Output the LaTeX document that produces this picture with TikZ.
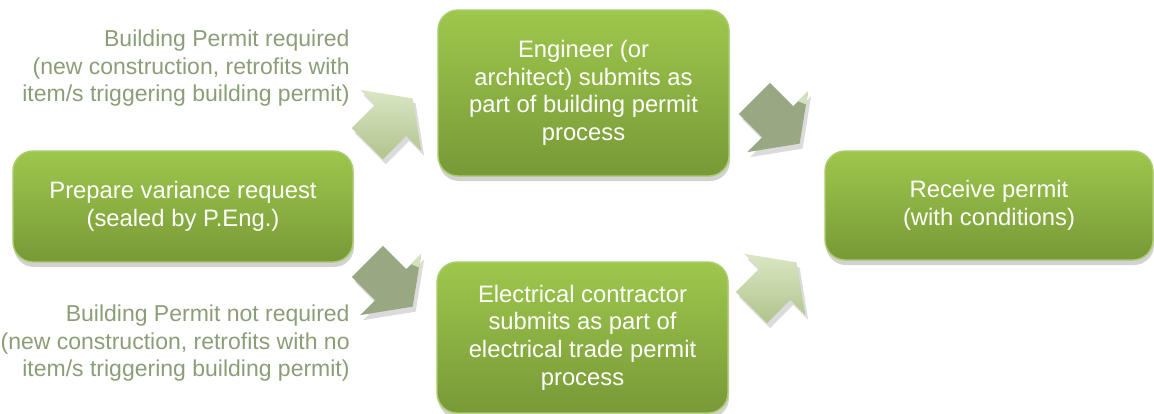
\documentclass[tikz,border=0pt]{standalone}
\usepackage{fontspec}
\setmainfont{Liberation Sans}
\usetikzlibrary{shadows}
\definecolor{boxtop}{RGB}{158,199,77}
\definecolor{boxbot}{RGB}{120,153,55}
\definecolor{boxline}{RGB}{172,205,112}
\definecolor{sidetext}{RGB}{140,158,120}
\definecolor{arrlightA}{RGB}{218,230,197}
\definecolor{arrlightB}{RGB}{176,196,140}
\definecolor{arrdark}{RGB}{152,168,131}
\definecolor{arrfacet}{RGB}{212,226,188}
\newcommand\BlockArrowPath{(-32,-22) -- (1,-22) -- (1,-43) -- (32,0) -- (1,43) -- (1,22) -- (-32,22) -- cycle}
\begin{document}
\begin{tikzpicture}[x=0.5pt,y=-0.5pt,
  stepnode/.style={rounded corners=10pt, draw=boxline, line width=0.7pt,
    top color=boxtop, bottom color=boxbot, text=white,
    font=\fontsize{11.9}{13.8}\selectfont, align=center, inner sep=0pt,
    drop shadow={shadow xshift=0.5pt, shadow yshift=-2.5pt, opacity=0.25, fill=black!70}},
  sidelabel/.style={text=sidetext, font=\fontsize{11.5}{13.8}\selectfont,
    align=right, inner sep=0pt},
  arrowshadow/.style={fill=black, opacity=0.14},
  lightarrow/.style={top color=arrlightA, bottom color=arrlightB},
  darkarrow/.style={fill=arrdark},
  facet/.style={fill=arrfacet}]
\useasboundingbox (0,0) rectangle (1154,413);
\fill[white] (0,0) rectangle (1154,413);

% side labels (base anchor = baseline of the last line)
\node[sidelabel, anchor=base east] (reqtxt) at (350,101.7)
  {Building Permit required\\(new construction, retrofits with\\item/s triggering building permit)};
\node[sidelabel, anchor=base east] (notreqtxt) at (350,376.7)
  {Building Permit not required\\(new construction, retrofits with no\\item/s triggering building permit)};

% block arrows (shadows)
\begin{scope}[shift={(393,126)}, rotate=45] \fill[arrowshadow] \BlockArrowPath; \end{scope}
\begin{scope}[shift={(393,289)}, rotate=-45] \fill[arrowshadow] \BlockArrowPath; \end{scope}
\begin{scope}[shift={(780,126)}, rotate=-45] \fill[arrowshadow] \BlockArrowPath; \end{scope}
\begin{scope}[shift={(777,290)}, rotate=45] \fill[arrowshadow] \BlockArrowPath; \end{scope}

% block arrows
\begin{scope}[shift={(390,121)}, rotate=45]
  \shade[lightarrow] \BlockArrowPath;
\end{scope}
\begin{scope}[shift={(390,284)}, rotate=-45]
  \fill[darkarrow] \BlockArrowPath;
  \fill[facet] (1,-43) -- (9,-32.3) -- (1,-29) -- cycle;
\end{scope}
\begin{scope}[shift={(777,121)}, rotate=-45]
  \fill[darkarrow] \BlockArrowPath;
  \fill[facet] (1,-43) -- (9,-32.3) -- (1,-29) -- cycle;
\end{scope}
\begin{scope}[shift={(774,285)}, rotate=45]
  \shade[lightarrow] \BlockArrowPath;
\end{scope}

% boxes
\node[stepnode, minimum width=170pt, minimum height=55.5pt] (prep) at (183,206.5)
  {Prepare variance request\\(sealed by P.Eng.)};
\node[stepnode, minimum width=145.5pt, minimum height=83pt] (eng) at (583.5,93)
  {Engineer (or\\architect) submits as\\part of building permit\\process};
\node[stepnode, minimum width=145.5pt, minimum height=75.5pt] (elec) at (582.5,337.5)
  {Electrical contractor\\submits as part of\\electrical trade permit\\process};
\node[stepnode, minimum width=164pt, minimum height=54.5pt] (recv) at (989,205.5)
  {Receive permit\\(with conditions)};
\end{tikzpicture}
\end{document}
